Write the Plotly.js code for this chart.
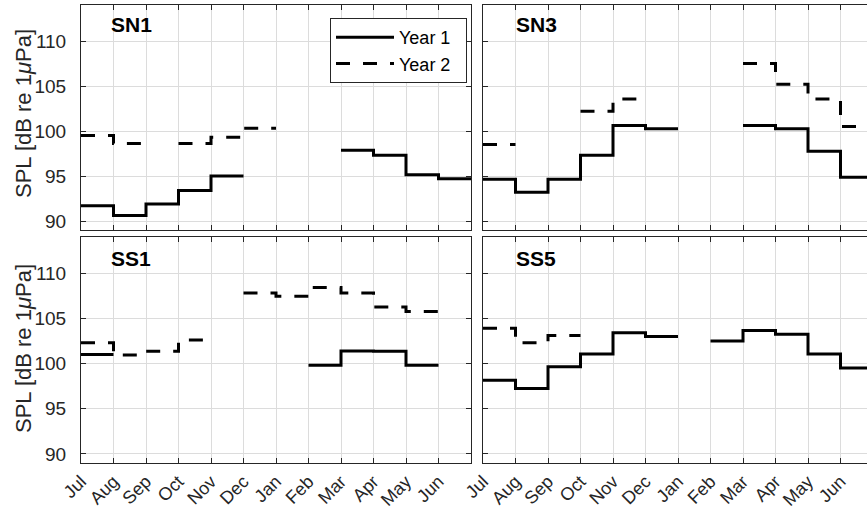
<!DOCTYPE html>
<html>
<head>
<meta charset="utf-8">
<script src="https://cdn.plot.ly/plotly-3.0.1.min.js"></script>
<style>
html,body{margin:0;padding:0;overflow:hidden;background:#fff;}
#chart{width:876px;height:512px;}
</style>
</head>
<body>
<div id="chart"></div>
<script>
// ---- data (monthly SPL, dB re 1 µPa) ----
const months = ['Jul','Aug','Sep','Oct','Nov','Dec','Jan','Feb','Mar','Apr','May','Jun'];
const yTicks = [90, 95, 100, 105, 110];

const SN1_year1 = [91.7, 90.6, 91.9, 93.4, 95.0, null, null, null, 97.85, 97.3, 95.15, 94.7];
const SN1_year2 = [99.5, 98.6, null, 98.6, 99.3, 100.3, null, null, null, null, null, null];

const SN3_year1 = [94.65, 93.2, 94.65, 97.3, 100.6, 100.25, null, null, 100.6, 100.25, 97.75, 94.85];
const SN3_year2 = [98.5, null, null, 102.2, 103.55, null, null, null, 107.5, 105.2, 103.55, 100.5];

const SS1_year1 = [101.0, null, null, null, null, null, null, 99.8, 101.4, 101.35, 99.8, null];
const SS1_year2 = [102.3, 100.95, 101.35, 102.6, null, 107.8, 107.45, 108.4, 107.8, 106.25, 105.75, null];

const SS5_year1 = [98.15, 97.25, 99.65, 101.05, 103.4, 103.0, null, 102.5, 103.65, 103.25, 101.05, 99.5];
const SS5_year2 = [103.9, 102.3, 103.1, null, null, null, null, null, null, null, null, null];

// ---- helpers ----
const W = 876, H = 512;
const px = v => v / W;
const py = v => 1 - v / H;

// MATLAB-like stairs: each month value is held until the start of the next month
function stairs(vals) {
  const x = [], y = [];
  let i = 0;
  while (i < vals.length) {
    if (vals[i] === null) { i++; continue; }
    let j = i;
    while (j < vals.length && vals[j] !== null) { x.push(j); y.push(vals[j]); j++; }
    x.push(j); y.push(vals[j - 1]);
    x.push(j); y.push(null);
    i = j;
  }
  return {x, y};
}

const font = 'Liberation Sans, Arial, Helvetica, sans-serif';
const ink = '#262626';
const pad = '\u00a0\u00a0';

const panels = [
  {name: 'SN1', y1: SN1_year1, y2: SN1_year2, xa: 'x3', ya: 'y3'},
  {name: 'SN3', y1: SN3_year1, y2: SN3_year2, xa: 'x4', ya: 'y4'},
  {name: 'SS1', y1: SS1_year1, y2: SS1_year2, xa: 'x',  ya: 'y'},
  {name: 'SS5', y1: SS5_year1, y2: SS5_year2, xa: 'x2', ya: 'y2'}
];

const traces = [];
panels.forEach((p, k) => {
  const s1 = stairs(p.y1), s2 = stairs(p.y2);
  traces.push({x: s1.x, y: s1.y, xaxis: p.xa, yaxis: p.ya, mode: 'lines', name: 'Year 1' + pad,
    line: {shape: 'hv', color: '#000', width: 3}, connectgaps: false,
    showlegend: k === 0, legendgroup: 'y1', hoverinfo: 'skip'});
  traces.push({x: s2.x, y: s2.y, xaxis: p.xa, yaxis: p.ya, mode: 'lines', name: 'Year 2' + pad,
    line: {shape: 'hv', color: '#000', width: 3, dash: '14px,13px'}, connectgaps: false,
    showlegend: k === 0, legendgroup: 'y2', hoverinfo: 'skip'});
});

const tickvals = months.map((m, i) => i);

function xAxis(domain, anchor, labels) {
  return {domain, anchor, range: [0, 12], tickvals, ticktext: months,
    showticklabels: labels, tickangle: -45, ticklabelstandoff: 0,
    tickfont: {family: font, size: 18, color: ink},
    ticks: 'inside', ticklen: 5, tickwidth: 1, tickcolor: ink,
    showline: true, linecolor: ink, linewidth: 1, mirror: 'allticks',
    showgrid: true, gridcolor: '#dcdcdc', gridwidth: 1, zeroline: false, fixedrange: true};
}
function yAxis(domain, anchor, labels) {
  return {domain, anchor, range: [89, 114], tickvals: yTicks,
    showticklabels: labels, ticklabelstandoff: 10,
    tickfont: {family: font, size: 19, color: ink},
    ticks: 'inside', ticklen: 5, tickwidth: 1, tickcolor: ink,
    showline: true, linecolor: ink, linewidth: 1, mirror: 'allticks',
    showgrid: true, gridcolor: '#dcdcdc', gridwidth: 1, zeroline: false, fixedrange: true};
}

const xL = [px(81), px(471)], xR = [px(483), px(873)];
const yT = [py(230), py(5)], yB = [py(463), py(237)];

const ytitle = 'SPL [dB re 1<i>μ</i>Pa]';
const annotations = [
  {text: ytitle, xref: 'paper', yref: 'paper', x: px(23), y: py(114), textangle: -90,
   showarrow: false, xanchor: 'center', yanchor: 'middle', font: {family: font, size: 22, color: ink}},
  {text: ytitle, xref: 'paper', yref: 'paper', x: px(23), y: py(349), textangle: -90,
   showarrow: false, xanchor: 'center', yanchor: 'middle', font: {family: font, size: 22, color: ink}}
];
const labelPos = {SN1: [109, 24], SN3: [514, 24], SS1: [109, 258], SS5: [514, 258]};
panels.forEach(p => {
  const [lx, ly] = labelPos[p.name];
  annotations.push({text: '<b>' + p.name + '</b>', xref: 'paper', yref: 'paper', x: px(lx), y: py(ly),
    xanchor: 'left', yanchor: 'middle', showarrow: false, font: {family: font, size: 21, color: '#000'}});
});

const layout = {
  width: W, height: H, margin: {l: 0, r: 0, t: 0, b: 0},
  paper_bgcolor: '#fff', plot_bgcolor: '#fff',
  font: {family: font, size: 19, color: ink},
  xaxis: xAxis(xL, 'y', true),
  yaxis: yAxis(yB, 'x', true),
  xaxis2: xAxis(xR, 'y2', true),
  yaxis2: yAxis(yB, 'x2', false),
  xaxis3: xAxis(xL, 'y3', false),
  yaxis3: yAxis(yT, 'x3', true),
  xaxis4: xAxis(xR, 'y4', false),
  yaxis4: yAxis(yT, 'x4', false),
  showlegend: true,
  legend: {x: px(467), y: py(18), xanchor: 'right', yanchor: 'top',
    bgcolor: '#fff', bordercolor: ink, borderwidth: 1, itemwidth: 58,
    font: {family: font, size: 18, color: '#000'}, tracegroupgap: 0},
  annotations
};

Plotly.newPlot('chart', traces, layout, {displayModeBar: false, staticPlot: true});
</script>
</body>
</html>
